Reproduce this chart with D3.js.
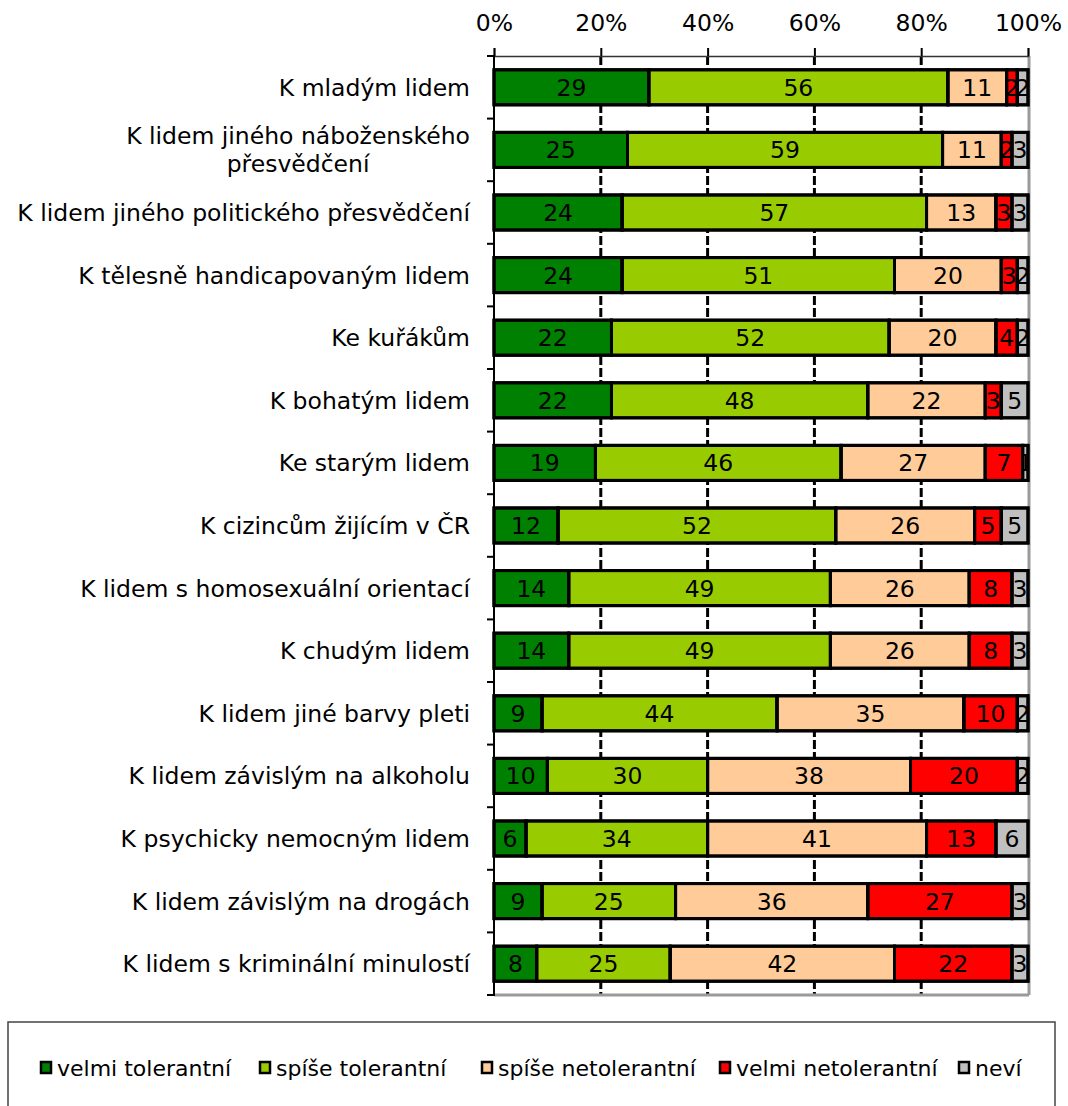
<!DOCTYPE html>
<html>
<head>
<meta charset="utf-8">
<script src="https://cdn.jsdelivr.net/npm/d3@7"></script>
<style>
  html, body { margin: 0; padding: 0; background: #fff; }
  svg { display: block; font-family: "DejaVu Sans", Verdana, sans-serif; }
</style>
</head>
<body>
<svg id="chart" width="1068" height="1106"></svg>
<script>
const categories = [
  ["K mladým lidem"],
  ["K lidem jiného náboženského", "přesvědčení"],
  ["K lidem jiného politického přesvědčení"],
  ["K tělesně handicapovaným lidem"],
  ["Ke kuřákům"],
  ["K bohatým lidem"],
  ["Ke starým lidem"],
  ["K cizincům žijícím v ČR"],
  ["K lidem s homosexuální orientací"],
  ["K chudým lidem"],
  ["K lidem jiné barvy pleti"],
  ["K lidem závislým na alkoholu"],
  ["K psychicky nemocným lidem"],
  ["K lidem závislým na drogách"],
  ["K lidem s kriminální minulostí"]
];
const seriesNames = ["velmi tolerantní", "spíše tolerantní", "spíše netolerantní", "velmi netolerantní", "neví"];
const velmiTolerantni   = [29, 25, 24, 24, 22, 22, 19, 12, 14, 14,  9, 10,  6,  9,  8];
const spiseTolerantni   = [56, 59, 57, 51, 52, 48, 46, 52, 49, 49, 44, 30, 34, 25, 25];
const spiseNetolerantni = [11, 11, 13, 20, 20, 22, 27, 26, 26, 26, 35, 38, 41, 36, 42];
const velmiNetolerantni = [ 2,  2,  3,  3,  4,  3,  7,  5,  8,  8, 10, 20, 13, 27, 22];
const nevi              = [ 2,  3,  3,  2,  2,  5,  1,  5,  3,  3,  2,  2,  6,  3,  3];
const xTicks = [0, 20, 40, 60, 80, 100];
const colors = ["#008000", "#99CC00", "#FFCC99", "#FF0000", "#C0C0C0"];

const seriesValues = [velmiTolerantni, spiseTolerantni, spiseNetolerantni, velmiNetolerantni, nevi];
const keys = categories.map((c, i) => "c" + i);
const rows = categories.map((c, i) => {
  const r = { key: keys[i], label: c };
  seriesNames.forEach((s, j) => r[s] = seriesValues[j][i]);
  return r;
});

const FS = 23.5;
const svg = d3.select("#chart");
const x = d3.scaleLinear().domain([0, 100]).range([494, 1028]);
const plotTop = 56, plotBottom = 995;
const y = d3.scaleBand().domain(keys).range([plotTop, plotBottom]).paddingInner(0.44).paddingOuter(0.22);

// gridlines
svg.append("g").selectAll("line").data(xTicks.filter(d => d > 0 && d < 100)).join("line")
  .attr("x1", d => x(d)).attr("x2", d => x(d))
  .attr("y1", plotTop).attr("y2", plotBottom)
  .attr("stroke", "#000").attr("stroke-width", 3).attr("stroke-dasharray", "9,3");

// frame: bottom and right in gray
svg.append("line").attr("x1", x(0)).attr("x2", x(100) + 1).attr("y1", plotBottom).attr("y2", plotBottom)
  .attr("stroke", "#9a9a9a").attr("stroke-width", 3);
svg.append("line").attr("x1", x(100) + 1).attr("x2", x(100) + 1).attr("y1", plotTop).attr("y2", plotBottom)
  .attr("stroke", "#9a9a9a").attr("stroke-width", 3);

// top axis
const xAxis = d3.axisTop(x).tickValues(xTicks).tickSize(8).tickPadding(17).tickFormat(d => d + "%");
const gx = svg.append("g").attr("transform", `translate(0,${plotTop})`).call(xAxis);
gx.select(".domain").attr("stroke", "#333").attr("stroke-width", 1.5);
gx.selectAll(".tick line").attr("stroke", "#000").attr("stroke-width", 2);
gx.selectAll(".tick text").attr("font-size", FS).attr("fill", "#000")
  .attr("font-family", "DejaVu Sans, Verdana, sans-serif");

// left axis line + ticks at category boundaries
const boundaries = d3.range(categories.length + 1).map(i => plotTop + i * y.step());
svg.append("line").attr("x1", x(0)).attr("x2", x(0)).attr("y1", plotTop).attr("y2", plotBottom + 1)
  .attr("stroke", "#000").attr("stroke-width", 2);
svg.append("g").selectAll("line").data(boundaries).join("line")
  .attr("x1", x(0) - 7).attr("x2", x(0)).attr("y1", d => d).attr("y2", d => d)
  .attr("stroke", "#000").attr("stroke-width", 2);

// stacked bars
const stack = d3.stack().keys(seriesNames);
const stacked = stack(rows);
const defs = svg.append("defs");
const barG = svg.append("g");
stacked.forEach((layer, li) => {
  layer.forEach((d, ri) => {
    const x0 = x(d[0]), x1 = x(d[1]);
    const yy = y(d.data.key), h = y.bandwidth();
    const id = `clip-${li}-${ri}`;
    defs.append("clipPath").attr("id", id).append("rect")
      .attr("x", x0).attr("y", yy).attr("width", x1 - x0).attr("height", h);
    barG.append("rect")
      .attr("x", x0).attr("y", yy).attr("width", x1 - x0).attr("height", h)
      .attr("fill", colors[li]).attr("stroke", "#000").attr("stroke-width", 3);
    barG.append("text")
      .attr("clip-path", `url(#${id})`)
      .attr("x", (x0 + x1) / 2).attr("y", yy + h / 2)
      .attr("dy", "0.36em").attr("text-anchor", "middle")
      .attr("font-size", FS).attr("fill", "#000")
      .text(d.data[seriesNames[li]]);
  });
});
stacked.forEach((layer, li) => {
  layer.forEach(d => {
    const x0 = x(d[0]), x1 = x(d[1]);
    barG.append("rect")
      .attr("x", x0).attr("y", y(d.data.key)).attr("width", x1 - x0).attr("height", y.bandwidth())
      .attr("fill", "none").attr("stroke", "#000").attr("stroke-width", 3);
  });
});

// category labels
const labG = svg.append("g").attr("font-size", FS).attr("fill", "#000");
rows.forEach(r => {
  const cy = y(r.key) + y.bandwidth() / 2;
  if (r.label.length === 1) {
    labG.append("text").attr("x", 470).attr("y", cy).attr("dy", "0.36em")
      .attr("text-anchor", "end").text(r.label[0]);
  } else {
    const t1 = labG.append("text").attr("x", 470).attr("y", cy - 14).attr("dy", "0.36em")
      .attr("text-anchor", "end").text(r.label[0]);
    const w = t1.node().getComputedTextLength();
    const cx = 470 - w / 2;
    t1.attr("x", cx).attr("text-anchor", "middle");
    labG.append("text").attr("x", cx).attr("y", cy + 14).attr("dy", "0.36em")
      .attr("text-anchor", "middle").text(r.label[1]);
  }
});

// legend
svg.append("rect").attr("x", 8).attr("y", 1022).attr("width", 1047).attr("height", 100)
  .attr("fill", "#fff").attr("stroke", "#444").attr("stroke-width", 1.5);
const legendX = [40, 259, 481, 719, 958];
const lg = svg.append("g");
seriesNames.forEach((s, i) => {
  lg.append("rect").attr("x", legendX[i] + 1).attr("y", 1062).attr("width", 10).attr("height", 11)
    .attr("fill", colors[i]).attr("stroke", "#000").attr("stroke-width", 2.5);
  lg.append("text").attr("x", legendX[i] + 17).attr("y", 1068).attr("dy", "0.36em")
    .attr("font-size", 22).attr("fill", "#000").text(s);
});
</script>
</body>
</html>
